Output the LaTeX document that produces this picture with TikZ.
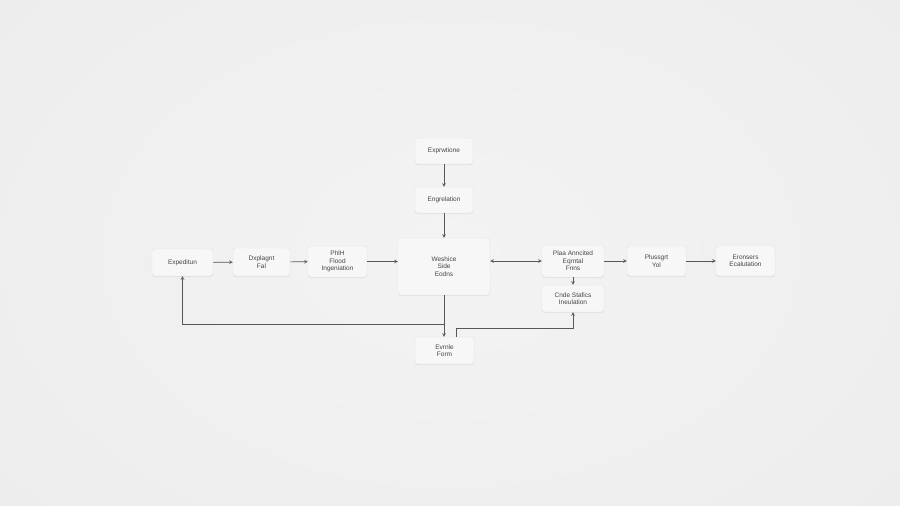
\documentclass[tikz,border=0pt]{standalone}
\usepackage{fontspec}
\setmainfont{Liberation Sans}
\usepackage{tikz}
\usetikzlibrary{calc,arrows,shadows}
\definecolor{bgback}{HTML}{EDEDEE}
\definecolor{bgmid}{HTML}{F3F3F4}
\definecolor{boxfill}{HTML}{F7F7F7}
\definecolor{boxline}{HTML}{E2E2E2}
\definecolor{ink}{HTML}{454545}

\begin{document}
\begin{tikzpicture}[x=1pt,y=-1pt,
        box/.style={draw=boxline, fill=boxfill, rounded corners=3pt, align=center,
                    inner sep=1pt, text=ink, font=\fontsize{6.5}{7.5}\selectfont,
                    drop shadow={opacity=.12, shadow xshift=0pt, shadow yshift=-1.2pt}},
        link/.style={draw=ink!90, line width=.6pt, -stealth}]
            % background
            \useasboundingbox (0,0) rectangle (900,506);
            \shade [inner color=bgmid, outer color=bgback] (-150,-150) rectangle (1050,656);
            % boxes
            \node [box, minimum width=61pt, minimum height=27pt] (expd) at (182.5,262.5) {Expeditun};
            \node [box, minimum width=57pt, minimum height=28pt] (eval) at (261.5,262) {Dxplagnt\\ Fal};
            \node [box, minimum width=59pt, minimum height=31pt] (phlh) at (337.5,261.5) {PhlH\\ Flood\\ Ingeniation};
            \node [box, minimum width=58pt, minimum height=26pt] (expr) at (444,151) {Exprwtione};
            \node [box, minimum width=58pt, minimum height=26pt] (engr) at (444,200) {Engrelation};
            \node [box, minimum width=92pt, minimum height=57pt] (core) at (444,266.5) {Weshice\\ Side\\ Eodns};
            \node [box, minimum width=62pt, minimum height=32pt] (plaa) at (573,261) {Plaa Anncited\\ Eqrntal\\ Fnns};
            \node [box, minimum width=62pt, minimum height=27pt] (cnde) at (573,298.5) {Cnde Stafics\\ Ineulation};
            \node [box, minimum width=59pt, minimum height=30pt] (plus) at (656.5,261) {Plussgrt\\ Yol};
            \node [box, minimum width=59pt, minimum height=30pt] (eron) at (745.5,261) {Eronsers\\ Ecalutation};
            \node [box, minimum width=59pt, minimum height=27pt] (evrn) at (444.5,350.5) {Evrnle\\ Form};
            \coordinate (split) at (444,324);
            % connectors
            \draw [link] (expd) -- (eval);
            \draw [link] (eval) -- (phlh);
            \draw [link] (phlh.east) -- (phlh.east -| core.west);
            \draw [link] (expr) -- (engr);
            \draw [link] (engr) -- (core);
            \draw [link, stealth-stealth] (plaa.west -| core.east) -- (plaa.west);
            \draw [link] (plaa) -- (cnde);
            \draw [link] (plaa) -- (plus);
            \draw [link] (plus) -- (eron);
            \draw [link] (core.south) -- (core.south |- evrn.north);
            \draw [link] (split) -| (expd.south);
            \draw [link] ([xshift=11.5pt]evrn.north) -- ++(0,-9) -| (cnde.south);
        \end{tikzpicture}
\end{document}
